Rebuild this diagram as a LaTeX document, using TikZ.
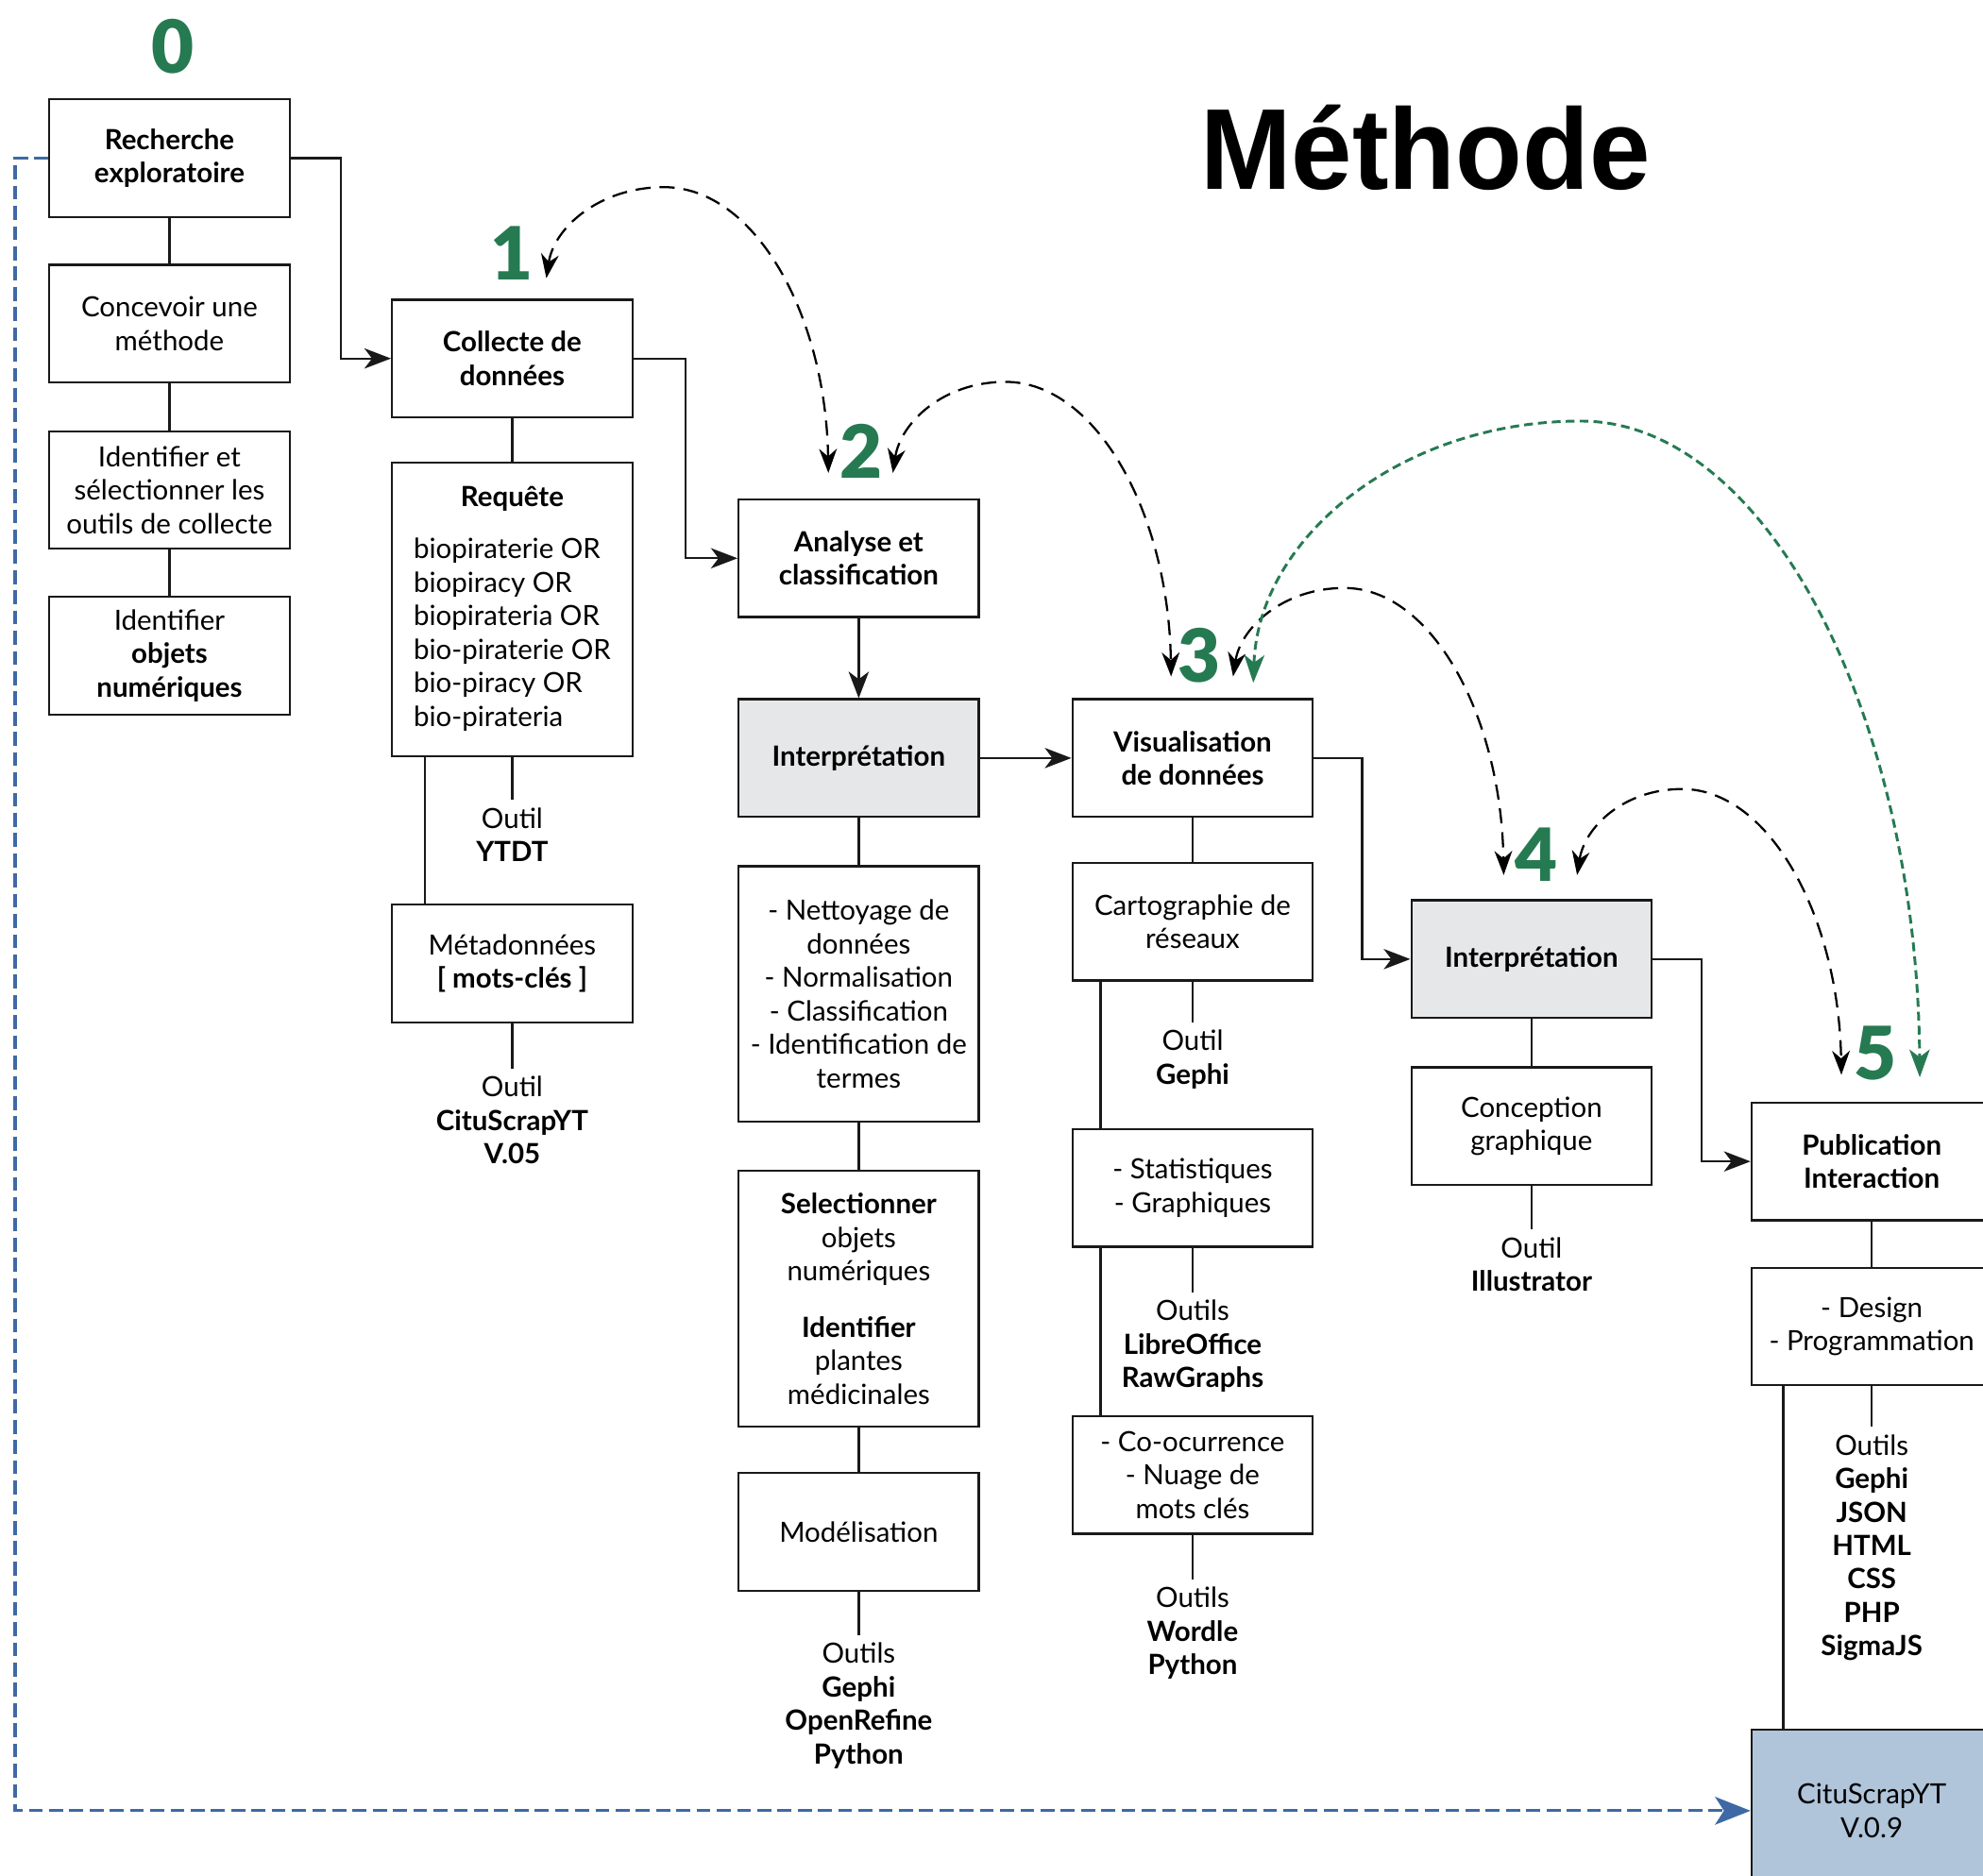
\documentclass[tikz,border=0pt]{standalone}
\usepackage{graphicx}
\usepackage{fontspec}
\setmainfont{Lato}
\newfontfamily\titlefont{Liberation Sans}
\newfontfamily\numfont{Lato Black}
\usetikzlibrary{arrows.meta,calc}
\definecolor{mgreen}{RGB}{38,122,82}
\definecolor{mgrey}{RGB}{230,231,232}
\definecolor{mbluefill}{RGB}{176,196,218}
\definecolor{mblue}{RGB}{62,105,165}
\newcommand{\fs}{\fontsize{22}{26.5}\selectfont}
\begin{document}
\begin{tikzpicture}[x=1pt,y=-1pt,
  bx/.style={draw=black!90, line width=1.7pt, minimum width=190pt, minimum height=93pt, align=center, inner sep=0pt, font=\fs, fill=white},
  lbl/.style={align=center, font=\fs, inner sep=0pt},
  num/.style={text=mgreen, font=\numfont\fontsize{58}{58}\selectfont, inner sep=0pt},
  con/.style={line width=1.7pt, draw=black!90},
  arr/.style={line width=1.7pt, draw=black!90, -{Stealth[length=21pt,width=16pt,inset=6pt]}},
  dsh/.style={line width=1.7pt, dash pattern=on 12pt off 7pt, {Stealth[length=19pt,width=14pt,inset=6pt]}-{Stealth[length=19pt,width=14pt,inset=6pt]}},
  gdsh/.style={line width=2.2pt, draw=mgreen, dash pattern=on 7pt off 4pt, {Stealth[length=22pt,width=16pt,inset=6pt,fill=mgreen]}-{Stealth[length=22pt,width=16pt,inset=6pt,fill=mgreen]}},
  bdsh/.style={line width=2.4pt, draw=mblue, dash pattern=on 11pt off 5pt, -{Stealth[length=28pt,width=22pt,inset=7pt,fill=mblue]}}
]
\useasboundingbox (0,0) rectangle (1568,1483);
\fill[white] (0,0) rectangle (1568,1483);

% title
\node[font=\titlefont\fontsize{91}{91}\selectfont\bfseries, anchor=base, inner sep=0pt] (title) at (1127,150) {\scalebox{0.95}[1]{Méthode}};

% green numbers
\node[num] (n0) at (137,37) {0};
\node[num] (n1) at (405,200) {1};
\node[num] (n2) at (681,357) {2};
\node[num] (n3) at (948,518) {3};
\node[num] (n4) at (1215,676) {4};
\node[num] (n5) at (1483,833) {5};

% column 0
\node[bx] (b0a) at (134,125) {\textbf{Recherche}\\\textbf{exploratoire}};
\node[bx] (b0b) at (134,256) {Concevoir une\\méthode};
\node[bx] (b0c) at (134,387.5) {Identifier et\\sélectionner les\\outils de collecte};
\node[bx] (b0d) at (134,518.5) {Identifier\\\textbf{objets}\\\textbf{numériques}};

% column 1
\node[bx] (b1a) at (405,283.5) {\textbf{Collecte de}\\\textbf{données}};
\node[bx, minimum height=232pt] (b1b) at (405,482) {\begin{tabular}{@{}l@{}}\multicolumn{1}{@{}c@{}}{\textbf{Requête}}\\[15pt]
biopiraterie OR\\ biopiracy OR\\ biopirateria OR\\ bio-piraterie OR\\ bio-piracy OR\\ bio-pirateria\end{tabular}};
\node[bx] (b1c) at (405,762) {Métadonnées\\\textbf{[ mots-clés ]}};
\node[lbl] (t1b) at (405,660) {Outil\\\textbf{YTDT}};
\node[lbl] (t1c) at (405,886) {Outil\\\textbf{CituScrapYT}\\\textbf{V.05}};

% column 2
\node[bx] (b2a) at (679,441.5) {\textbf{Analyse et}\\\textbf{classification}};
\node[bx, fill=mgrey] (b2b) at (679,599.5) {\textbf{Interprétation}};
\node[bx, minimum height=202pt] (b2c) at (679,786) {- Nettoyage de\\données\\- Normalisation\\- Classification\\- Identification de\\termes};
\node[bx, minimum height=202pt] (b2d) at (679,1027) {\textbf{Selectionner}\\objets\\numériques\\[18pt]\textbf{Identifier}\\plantes\\médicinales};
\node[bx] (b2e) at (679,1211.5) {Modélisation};
\node[lbl] (t2e) at (679,1349) {Outils\\\textbf{Gephi}\\\textbf{OpenRefine}\\\textbf{Python}};

% column 3
\node[bx] (b3a) at (943,599.5) {\textbf{Visualisation}\\\textbf{de données}};
\node[bx] (b3b) at (943,729) {Cartographie de\\réseaux};
\node[bx] (b3c) at (943,939.5) {- Statistiques\\- Graphiques};
\node[bx] (b3d) at (943,1166.5) {- Co-ocurrence\\- Nuage de\\mots clés};
\node[lbl] (t3b) at (943,838) {Outil\\\textbf{Gephi}};
\node[lbl] (t3c) at (943,1064.5) {Outils\\\textbf{LibreOffice}\\\textbf{RawGraphs}};
\node[lbl] (t3d) at (943,1291.5) {Outils\\\textbf{Wordle}\\\textbf{Python}};

% column 4
\node[bx, fill=mgrey] (b4a) at (1211,758.5) {\textbf{Interprétation}};
\node[bx] (b4b) at (1211,890.5) {Conception\\graphique};
\node[lbl] (t4b) at (1211,1000) {Outil\\\textbf{Illustrator}};

% column 5
\node[bx] (b5a) at (1480,918.5) {\textbf{Publication}\\\textbf{Interaction}};
\node[bx] (b5b) at (1480,1049) {- Design\\- Programmation};
\node[bx, fill=mbluefill, minimum height=128pt] (b5c) at (1480,1432) {CituScrapYT\\V.0.9};
\node[lbl] (t5b) at (1480,1224) {Outils\\\textbf{Gephi}\\\textbf{JSON}\\\textbf{HTML}\\\textbf{CSS}\\\textbf{PHP}\\\textbf{SigmaJS}};

% plain connectors
\draw[con] (b0a.south) -- (b0b.north);
\draw[con] (b0b.south) -- (b0c.north);
\draw[con] (b0c.south) -- (b0d.north);
\draw[con] (b1a.south) -- (b1b.north);
\draw[con] (b1b.south) -- ([yshift=6pt]t1b.north);
\draw[con] ([xshift=27pt]b1b.south west) -- ([xshift=27pt]b1c.north west);
\draw[con] (b1c.south) -- ([yshift=6pt]t1c.north);
\draw[con] (b2b.south) -- (b2c.north);
\draw[con] (b2c.south) -- (b2d.north);
\draw[con] (b2d.south) -- (b2e.north);
\draw[con] (b2e.south) -- ([yshift=6pt]t2e.north);
\draw[con] (b3a.south) -- (b3b.north);
\draw[con] (b3b.south) -- ([yshift=6pt]t3b.north);
\draw[con] ([xshift=23pt]b3b.south west) -- ([xshift=23pt]b3c.north west);
\draw[con] (b3c.south) -- ([yshift=6pt]t3c.north);
\draw[con] ([xshift=23pt]b3c.south west) -- ([xshift=23pt]b3d.north west);
\draw[con] (b3d.south) -- ([yshift=6pt]t3d.north);
\draw[con] (b4a.south) -- (b4b.north);
\draw[con] (b4b.south) -- ([yshift=6pt]t4b.north);
\draw[con] (b5a.south) -- (b5b.north);
\draw[con] (b5b.south) -- ([yshift=6pt]t5b.north);
\draw[con] ([xshift=26pt]b5b.south west) -- ([xshift=26pt]b5c.north west);

% arrows
\draw[arr] (b0a.east) -| ($(b0a.east)!0.5!(b1a.west)$) |- (b1a.west);
\draw[arr] (b1a.east) -| ($(b1a.east)!0.5!(b2a.west)$) |- (b2a.west);
\draw[arr] (b2a.south) -- (b2b.north);
\draw[arr] (b2b.east) -- (b3a.west);
\draw[arr] (b3a.east) -| ($(b3a.east)!0.5!(b4a.west)$) |- (b4a.west);
\draw[arr] (b4a.east) -| ($(b4a.east)!0.5!(b5a.west)$) |- (b5a.west);

% blue dashed loop
\coordinate (bl) at (12,1432);
\draw[bdsh] (b0a.west) -| (bl) -- (b5c.west);

% curved dashed arrows
\coordinate (a1) at (432,220);
\coordinate (a2) at (655,374);
\coordinate (b1) at (706,374);
\coordinate (b2) at (926,535);
\coordinate (c1) at (975,535);
\coordinate (c2) at (1189,692);
\coordinate (d1) at (1247,692);
\coordinate (d2) at (1456,850);
\coordinate (e1) at (991,540);
\coordinate (e2) at (1518,852);
\draw[dsh] (a1) .. controls (438,180) and (474,148) .. (525,148) .. controls (597,148) and (653,249) .. (a2);
\draw[dsh] (b1) .. controls (712,334) and (746,302) .. (795,302) .. controls (867,302) and (924,406) .. (b2);
\draw[dsh] (c1) .. controls (981,496) and (1015,465) .. (1063,465) .. controls (1132,465) and (1187,566) .. (c2);
\draw[dsh] (d1) .. controls (1253,654) and (1284,624) .. (1330,624) .. controls (1399,624) and (1454,725) .. (d2);
\draw[gdsh] (e1) .. controls (995,425) and (1108,333) .. (1250,333) .. controls (1397,333) and (1516,566) .. (e2);
\end{tikzpicture}
\end{document}
